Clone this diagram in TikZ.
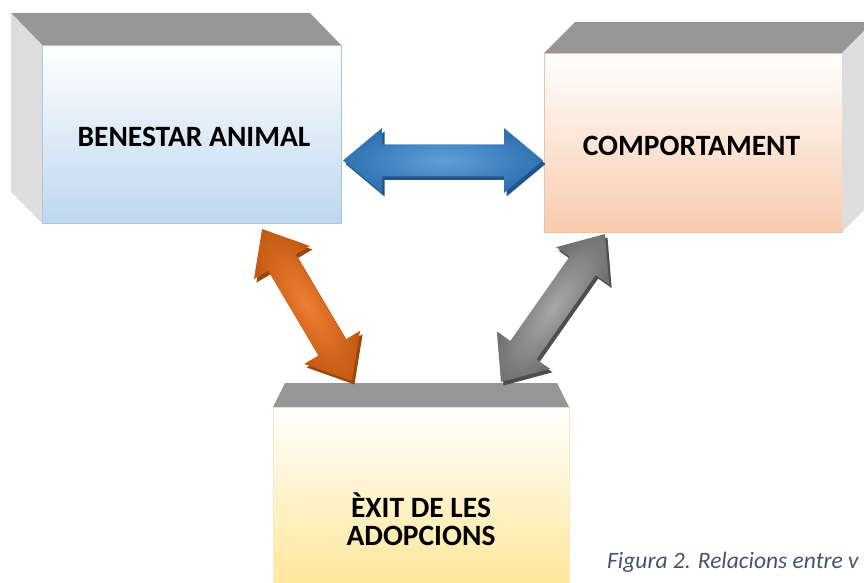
\documentclass[tikz,border=0pt]{standalone}
\usepackage{fontspec}
\setmainfont{Carlito}
\usetikzlibrary{calc}
\definecolor{topgray}{HTML}{969696}
\definecolor{sidegray}{HTML}{DDDDDD}
\definecolor{bluebot}{HTML}{BDD7EE}
\definecolor{blueline}{HTML}{A8C6E4}
\definecolor{orbot}{HTML}{F8CBAD}
\definecolor{orline}{HTML}{EDC3A8}
\definecolor{goldbot}{HTML}{FFE699}
\definecolor{goldline}{HTML}{F6EBC8}
\definecolor{capcol}{HTML}{44546A}
\definecolor{bluedark}{HTML}{3172B3}
\definecolor{bluelight}{HTML}{5E9FD8}
\definecolor{blueshadow}{HTML}{24538A}
\definecolor{ordark}{HTML}{C45A12}
\definecolor{orlight}{HTML}{EE7E32}
\definecolor{orshadow}{HTML}{9A460C}
\definecolor{grdark}{HTML}{717171}
\definecolor{grlight}{HTML}{A8A8A8}
\definecolor{grshadow}{HTML}{4E4E4E}
\newcommand{\blockarrow}[6]{%
  \begin{scope}[transform canvas={shift={($(#1)+(2.5,-3.5)$)},rotate=#2}]
    \fill[#4] ({-#3/2},0) -- ({-#3/2+39},32.5) -- ({-#3/2+39},16) -- ({#3/2-39},16) -- ({#3/2-39},32.5) -- ({#3/2},0) -- ({#3/2-39},-32.5) -- ({#3/2-39},-16) -- ({-#3/2+39},-16) -- ({-#3/2+39},-32.5) -- cycle;
  \end{scope}
  \begin{scope}[transform canvas={shift={(#1)},rotate=#2}]
    \shade[inner color=#6,outer color=#5] ({-#3/2},0) -- ({-#3/2+39},32.5) -- ({-#3/2+39},16) -- ({#3/2-39},16) -- ({#3/2-39},32.5) -- ({#3/2},0) -- ({#3/2-39},-32.5) -- ({#3/2-39},-16) -- ({-#3/2+39},-16) -- ({-#3/2+39},-32.5) -- cycle;
  \end{scope}}
\tikzset{
  face/.style={rectangle, inner sep=0pt, outer sep=0pt, top color=white, line width=0.8pt},
  topface/.style={fill=topgray},
  sideface/.style={fill=sidegray},
  lbl/.style={font=\bfseries\fontsize{29.5}{29.5}\selectfont, inner sep=0pt, text=black},
  caption/.style={font=\itshape\fontsize{23.5}{23.5}\selectfont, text=capcol, inner sep=0pt}
}
\begin{document}
\begin{tikzpicture}[x=1pt,y=1pt]
\useasboundingbox (0,0) rectangle (864,582);
\clip (0,0) rectangle (864,582);
% front faces
\node[face, bottom color=bluebot, draw=blueline, minimum width=299pt, minimum height=178pt] (b1) at (191.5,448) {};
\node[face, bottom color=orbot, draw=orline, minimum width=298pt, minimum height=179pt] (b2) at (693,439.5) {};
\node[face, bottom color=goldbot, draw=goldline, minimum width=296pt, minimum height=179pt] (b3) at (421,85.5) {};
% box 1 faces
\fill[topface] (b1.north west) -- ++(-31,32) -- ($(b1.north east)+(-31,32)$) -- (b1.north east) -- cycle;
\fill[sideface] (b1.north west) -- ++(-31,32) -- ($(b1.south west)+(-31,31)$) -- (b1.south west) -- cycle;
% box 2 faces
\fill[topface] (b2.north west) -- ++(31,31) -- ($(b2.north east)+(31,31)$) -- (b2.north east) -- cycle;
\fill[sideface] (b2.north east) -- ++(31,31) -- ($(b2.south east)+(31,31)$) -- (b2.south east) -- cycle;
% box 3 top
\fill[topface] (b3.north west) -- ++(12,24) -- ($(b3.north east)+(-12,24)$) -- (b3.north east) -- cycle;
% labels
\node[lbl, anchor=base] (t1) at (194,435) {BENESTAR ANIMAL};
\node[lbl, anchor=base] (t2) at (691.5,426) {COMPORTAMENT};
\node[lbl, anchor=base] (t3) at (421,65) {ÈXIT DE LES};
\node[lbl, anchor=base] (t4) at (421,37) {ADOPCIONS};
\node[caption, anchor=base west] (cap) at (607,13.5) {Figura 2. Relacions entre v};
% arrow end points
\coordinate (ab1) at ($(b1.east)+(2,-26.5)$);
\coordinate (ab2) at ($(b2.west)+(-1,-18)$);
\coordinate (bc) at ($(ab1)!0.5!(ab2)$);
\coordinate (ao1) at (262,353);
\coordinate (ao2) at (352,201);
\coordinate (oc) at ($(ao1)!0.5!(ao2)$);
\coordinate (ag1) at (605,348);
\coordinate (ag2) at (501,200);
\coordinate (gc) at ($(ag1)!0.5!(ag2)$);
\blockarrow{bc}{0}{200}{blueshadow}{bluedark}{bluelight}
\blockarrow{oc}{-59.4}{176.6}{orshadow}{ordark}{orlight}
\blockarrow{gc}{54.9}{180.9}{grshadow}{grdark}{grlight}
\end{tikzpicture}
\end{document}
